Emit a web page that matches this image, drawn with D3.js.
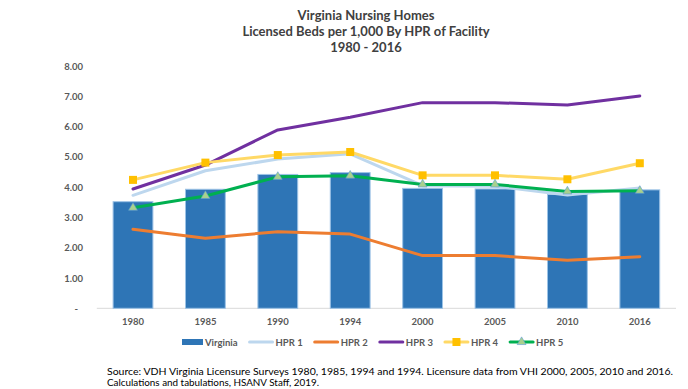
<!DOCTYPE html>
<html>
<head>
<meta charset="utf-8">
<script src="https://cdn.jsdelivr.net/npm/d3@7"></script>
<style>
  body { margin: 0; background: #fff; }
  svg { display: block; font-family: Lato, "Open Sans", sans-serif; }
</style>
</head>
<body>
<svg id="chart" width="688" height="389"></svg>
<script>
// data
const years = ["1980", "1985", "1990", "1994", "2000", "2005", "2010", "2016"];
const virginia = [3.52, 3.93, 4.42, 4.48, 3.96, 3.94, 3.76, 3.91];
const hpr1 = [3.73, 4.54, 4.93, 5.10, 4.05, 4.03, 3.74, 3.97];
const hpr2 = [2.61, 2.31, 2.53, 2.45, 1.74, 1.74, 1.59, 1.70];
const hpr3 = [3.94, 4.73, 5.89, 6.31, 6.79, 6.79, 6.71, 7.01];
const hpr4 = [4.24, 4.81, 5.06, 5.16, 4.39, 4.39, 4.26, 4.79];
const hpr5 = [3.32, 3.71, 4.34, 4.38, 4.09, 4.09, 3.86, 3.88];
const yTicks = [0, 1, 2, 3, 4, 5, 6, 7, 8];

const titleLines = ["Virginia Nursing  Homes", "Licensed Beds per 1,000 By HPR of Facility", "1980 - 2016"];
const sourceLines = [
  "Source: VDH Virginia Licensure Surveys 1980, 1985, 1994 and 1994. Licensure data from VHI 2000, 2005, 2010 and 2016.",
  "Calculations and tabulations, HSANV Staff, 2019."
];

const series = [
  { name: "HPR 1", values: hpr1, color: "#BDD7EE", marker: null },
  { name: "HPR 2", values: hpr2, color: "#ED7D31", marker: null },
  { name: "HPR 3", values: hpr3, color: "#7030A0", marker: null },
  { name: "HPR 4", values: hpr4, color: "#FFD966", marker: "square" },
  { name: "HPR 5", values: hpr5, color: "#00B050", marker: "triangle" }
];

const svg = d3.select("#chart");

// scales
const x = d3.scaleBand().domain(years).range([96.8, 676]).paddingInner(0.45).paddingOuter(0.225);
const y = d3.scaleLinear().domain([0, 8]).range([308.3, 66]);
const cx = d => x(d) + x.bandwidth() / 2;

// title
svg.append("text")
  .attr("x", 366).attr("y", 20)
  .attr("text-anchor", "middle")
  .attr("font-size", 13).attr("font-weight", "bold").attr("fill", "#404040")
  .selectAll("tspan")
  .data(titleLines)
  .enter().append("tspan")
  .attr("x", 366)
  .attr("dy", (d, i) => i === 0 ? 0 : 16)
  .text(d => d);

// y axis labels (no line, no ticks)
svg.append("g").selectAll("text")
  .data(yTicks)
  .enter().append("text")
  .attr("x", d => d === 0 ? 78 : 83)
  .attr("y", d => y(d) + 3.5)
  .attr("text-anchor", "end")
  .attr("font-size", 9.5).attr("font-weight", "bold").attr("fill", "#595959")
  .text(d => d === 0 ? "-" : d.toFixed(2));

// baseline
svg.append("line")
  .attr("x1", 96.8).attr("x2", 676)
  .attr("y1", y(0)).attr("y2", y(0))
  .attr("stroke", "#D9D9D9").attr("stroke-width", 1);

// bars
svg.append("g").selectAll("rect")
  .data(virginia)
  .enter().append("rect")
  .attr("x", (d, i) => x(years[i]))
  .attr("y", d => y(d))
  .attr("width", x.bandwidth())
  .attr("height", d => y(0) - y(d))
  .attr("fill", "#2E75B6")
  .attr("stroke", "#9DC3E6").attr("stroke-width", 1);

// x labels
svg.append("g").selectAll("text")
  .data(years)
  .enter().append("text")
  .attr("x", d => cx(d))
  .attr("y", 325)
  .attr("text-anchor", "middle")
  .attr("font-size", 9.5).attr("font-weight", "bold").attr("fill", "#595959")
  .text(d => d);

// lines
const line = d3.line()
  .x((d, i) => cx(years[i]))
  .y(d => y(d));

function drawMarker(g, type, px, py) {
  if (type === "square") {
    g.append("rect")
      .attr("x", px - 4).attr("y", py - 4)
      .attr("width", 8).attr("height", 8)
      .attr("fill", "#FFC000");
  } else if (type === "triangle") {
    g.append("path")
      .attr("d", d3.symbol().type(d3.symbolTriangle).size(34)())
      .attr("transform", `translate(${px},${py})`)
      .attr("fill", "#A9D18E")
      .attr("stroke", "#5B9BD5").attr("stroke-width", 0.6);
  }
}

series.forEach(s => {
  const g = svg.append("g");
  g.append("path")
    .attr("d", line(s.values))
    .attr("fill", "none")
    .attr("stroke", s.color)
    .attr("stroke-width", 3)
    .attr("stroke-linejoin", "round")
    .attr("stroke-linecap", "round");
  if (s.marker) {
    s.values.forEach((v, i) => drawMarker(g, s.marker, cx(years[i]), y(v)));
  }
});

// legend
const legend = svg.append("g");
let lx = 182;
const ly = 342;
const legendItems = [{ name: "Virginia", color: "#2E75B6", marker: "bar" }].concat(series);
legendItems.forEach(s => {
  const g = legend.append("g");
  if (s.marker === "bar") {
    g.append("rect").attr("x", lx).attr("y", ly - 3).attr("width", 21).attr("height", 6).attr("fill", s.color);
    lx += 23;
  } else {
    g.append("line").attr("x1", lx).attr("x2", lx + 23).attr("y1", ly).attr("y2", ly)
      .attr("stroke", s.color).attr("stroke-width", 3).attr("stroke-linecap", "round");
    if (s.marker) drawMarker(g, s.marker, lx + 11.5, ly);
    lx += 26;
  }
  const t = g.append("text")
    .attr("x", lx).attr("y", ly + 3.5)
    .attr("font-size", 9.5).attr("font-weight", "bold").attr("fill", "#595959")
    .text(s.name);
  lx += t.node().getComputedTextLength() + 12;
});

// source note
svg.append("g").selectAll("text")
  .data(sourceLines)
  .enter().append("text")
  .attr("x", 107)
  .attr("y", (d, i) => 375 + i * 10.5)
  .attr("font-size", 9).attr("fill", "#000")
  .attr("textLength", (d, i) => i === 0 ? 566 : 212)
  .attr("lengthAdjust", "spacingAndGlyphs")
  .text(d => d);
</script>
</body>
</html>
